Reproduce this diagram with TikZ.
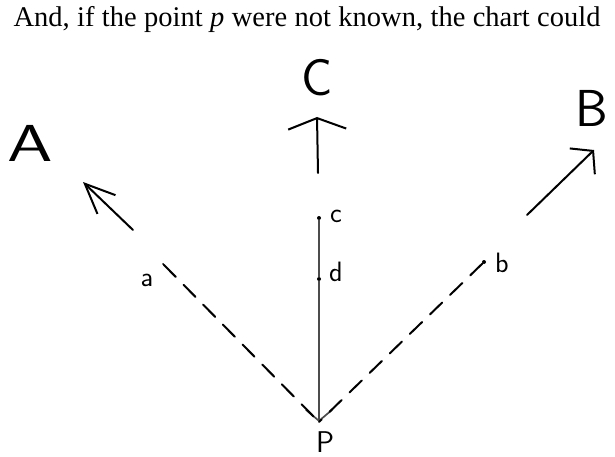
\documentclass[tikz,border=0pt]{standalone}
\usepackage{fontspec}
\setmainfont{Liberation Serif}
\usetikzlibrary{arrows.meta}
\tikzset{
  every picture/.style={line cap=round, line join=round},
  ray/.style={line width=2pt, black},
  trace/.style={line width=1.7pt, gray!60!black},
  probe/.style={line width=2pt, black, dash pattern=on 17pt off 11pt},
  pt/.style={circle, fill=black, inner sep=0pt, minimum size=4pt},
  big/.style={font=\fontsize{52}{52}\selectfont\sffamily},
  small/.style={font=\fontsize{28}{28}\selectfont\sffamily},
}
\begin{document}
\begin{tikzpicture}[x=1pt, y=-1pt]
  \useasboundingbox (0,0) rectangle (615,457);
  % running text above the chart
  \node[anchor=base, font=\fontsize{28.5}{28.5}\selectfont, inner sep=0pt] (txt) at (307,27)
    {\makebox[587pt][s]{And, if the point \textit{p} were not known, the chart could}};
  % points on the chart
  \coordinate (P) at (319,422);
  \node[pt] (c) at (319,218) {};
  \node[pt] (d) at (319,279) {};
  \node[pt, minimum size=2pt] (a) at (163,264) {};
  \node[pt] (b) at (484,262) {};
  % labels
  \node[small] (lc) at (336,216) {c};
  \node[small] (ld) at (336,272) {d};
  \node[small] (la) at (147,280) {a};
  \node[small] (lb) at (502,263) {b};
  \node[small, font=\fontsize{30}{30}\selectfont\sffamily] (lP) at (325,442) {P};
  % directions
  \node[big, xscale=1.4] (A) at (30,143) {A};
  \node[big] (C) at (317,78) {C};
  \node[big] (B) at (592,108) {B};
  \coordinate (A0) at (133,230); \coordinate (A1) at (83,182);
  \coordinate (C0) at (318,173); \coordinate (C1) at (317,117);
  \coordinate (B0) at (527,215); \coordinate (B1) at (594,150);
  \draw[ray, -{Straight Barb[length=30pt, width=26pt]}] (A0) -- (A1);
  \draw[ray, -{Straight Barb[length=11pt, width=58pt]}] (C0) -- (C1);
  \draw[ray, -{Straight Barb[length=15pt, width=36pt]}] (B0) -- (B1);
  % the vertical through c and d, down to P
  \draw[trace, -{Straight Barb[length=11pt, width=26pt]}] (c) -- (d) -- (P);
  \draw[probe] (a) -- (P);
  \draw[probe] (b) -- (P);
\end{tikzpicture}
\end{document}
